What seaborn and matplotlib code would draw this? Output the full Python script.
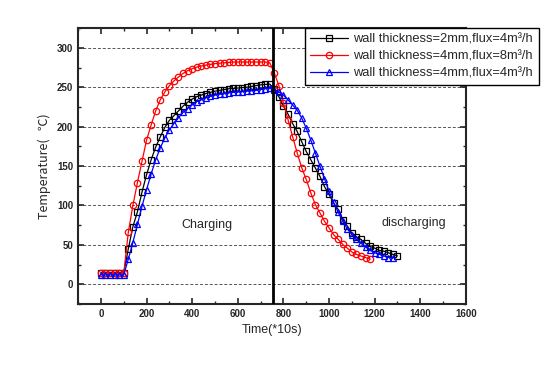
import matplotlib
matplotlib.use("Agg")
import matplotlib.pyplot as plt
import seaborn as sns
import pandas as pd
from matplotlib.ticker import MultipleLocator

sns.set_style("ticks")
plt.rcParams['font.family'] = ['Liberation Sans', 'DejaVu Sans']

# ---- data (time in *10 s, temperature in C) ----
t_charge = [0, 20, 40, 60, 80, 100, 120, 140, 160, 180, 200, 220, 240, 260, 280, 300,
            320, 340, 360, 380, 400, 420, 440, 460, 480, 500, 520, 540, 560, 580, 600,
            620, 640, 660, 680, 700, 720, 740]

black_charge = [15, 15, 15, 15, 15, 15, 45, 73, 92, 117, 139, 158, 174, 187, 199, 208,
                214, 220, 226, 231, 235, 238, 240, 242, 243.5, 245, 246, 247, 248, 248.5, 249,
                249.5, 250, 251, 252, 253, 253.5, 254]
red_charge = [14, 14, 14, 14, 14, 14, 66, 100, 129, 156, 183, 202, 220, 234, 244, 252,
              258, 263, 267.5, 271, 273.5, 275.5, 277, 278, 279, 280, 280.5, 281, 281.5, 282, 282,
              282, 282, 282, 282, 282, 282, 281]
blue_charge = [12, 12, 12, 12, 12, 12, 32, 53, 76, 99, 120, 140, 158, 173, 185.5, 196,
               204, 211.5, 218, 223, 227.6, 231.7, 234, 236.5, 238.5, 240, 241, 242, 243, 243.5, 244,
               244.5, 245, 245.5, 246, 247, 248, 249]

t_black_dis = [760, 780, 800, 820, 840, 860, 880, 900, 920, 940, 960, 980, 1000, 1020,
               1040, 1060, 1080, 1100, 1120, 1140, 1160, 1180, 1200, 1220, 1240, 1260, 1280, 1300]
black_dis = [248, 238, 226, 216, 204, 194, 181, 168.5, 158, 147.5, 137, 124, 114, 103,
             95, 82, 74, 65, 60, 57, 52, 48, 46, 43, 42, 40, 38, 36]

t_red_dis = [760, 780, 800, 820, 840, 860, 880, 900, 920, 940, 960, 980, 1000, 1020,
             1040, 1060, 1080, 1100, 1120, 1140, 1160, 1180]
red_dis = [268, 252, 230, 209, 187.5, 167, 148, 133, 116, 101, 90.6, 80, 71.6, 63,
           57, 50.6, 46, 41, 38, 36, 34, 32]

t_blue_dis = [760, 780, 800, 820, 840, 860, 880, 900, 920, 940, 960, 980, 1000, 1020,
              1040, 1060, 1080, 1100, 1120, 1140, 1160, 1180, 1200, 1220, 1240, 1260, 1280]
blue_dis = [246.5, 244, 240, 234, 227.6, 221, 211, 198, 183, 166.5, 150, 134, 118, 104,
            91.4, 80, 70.4, 63, 57, 52, 47.6, 43, 40, 38, 36, 34, 33]

labels = ["wall thickness=2mm,flux=4m\u00b3/h",
          "wall thickness=4mm,flux=8m\u00b3/h",
          "wall thickness=4mm,flux=4m\u00b3/h"]
x_ticks = [0, 200, 400, 600, 800, 1000, 1200, 1400, 1600]
y_ticks = [0, 50, 100, 150, 200, 250, 300]
switch_time = 755

series = [
    (t_charge + t_black_dis, black_charge + black_dis, "black", "s", labels[0]),
    (t_charge + t_red_dis, red_charge + red_dis, "red", "o", labels[1]),
    (t_charge + t_blue_dis, blue_charge + blue_dis, "blue", "^", labels[2]),
]

fig = plt.figure(figsize=(5.58, 3.65), dpi=100)
ax = fig.add_axes([0.140, 0.167, 0.695, 0.756])

for tx, ty, col, mk, lab in series:
    df = pd.DataFrame({"t": tx, "T": ty})
    sns.lineplot(data=df, x="t", y="T", ax=ax, color=col, marker=mk, markersize=4.6,
                 markerfacecolor="none", markeredgecolor=col, markeredgewidth=0.9,
                 linewidth=0.9, label=lab, sort=False, estimator=None)

ax.axvline(switch_time, color="black", linewidth=2.0, zorder=5)

for yv in y_ticks:
    ax.axhline(yv, color="#555555", linewidth=0.7, linestyle=(0, (3, 2)), zorder=0)

ax.set_xlim(-100, 1600)
ax.set_ylim(-25, 325)
ax.set_xticks(x_ticks)
ax.set_yticks(y_ticks)
ax.xaxis.set_minor_locator(MultipleLocator(100))
ax.yaxis.set_minor_locator(MultipleLocator(25))
ax.tick_params(axis="both", which="major", direction="in", length=4, width=1.2,
               top=True, right=True, labelsize=7)
ax.tick_params(axis="both", which="minor", direction="in", length=2.5, width=1.0,
               top=True, right=True)
for lbl in ax.get_xticklabels() + ax.get_yticklabels():
    lbl.set_fontweight("bold")
for sp in ax.spines.values():
    sp.set_linewidth(1.5)

ax.set_xlabel("Time(*10s)", fontsize=9)
ax.set_ylabel("Temperature(   \u2103)", fontsize=9, family=['Noto Sans CJK SC', 'Liberation Sans'])

ax.text(464, 75, "Charging", fontsize=9, ha="center", va="center")
ax.text(1370, 78, "discharging", fontsize=9, ha="center", va="center")

leg = ax.legend(loc="upper left", bbox_to_anchor=(0.546, 0.923), bbox_transform=fig.transFigure,
                fontsize=9.3, frameon=True, fancybox=False, edgecolor="black",
                handlelength=2.9, borderpad=0.45, labelspacing=0.35, handletextpad=0.4,
                borderaxespad=0)
leg.get_frame().set_linewidth(1.0)
leg.get_frame().set_alpha(1)
leg.set_zorder(10)

fig.savefig("out.png", dpi=100)
